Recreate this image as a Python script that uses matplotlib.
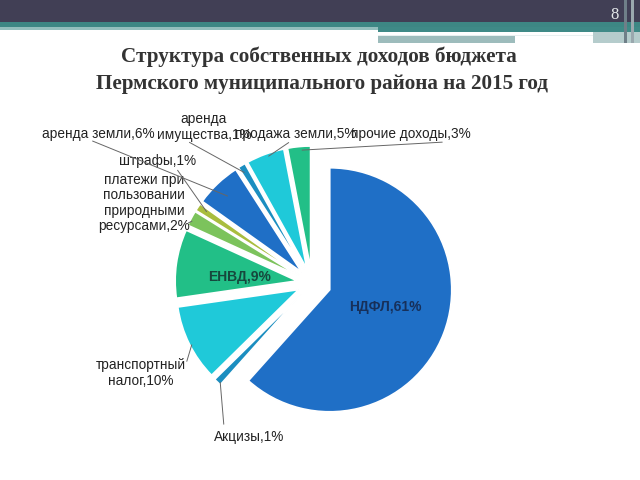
import matplotlib.pyplot as plt
from matplotlib.patches import Rectangle
import numpy as np

# data
labels = ['НДФЛ', 'Акцизы', 'транспортный\nналог', 'ЕНВД',
          'платежи при\nпользовании\nприродными\nресурсами', 'штрафы',
          'аренда земли', 'аренда\nимущества', 'продажа земли', 'прочие доходы']
shares = [61, 1, 10, 9, 2, 1, 6, 1, 5, 3]
colors = ['#1f6fc6', '#1b8ec0', '#1fc9d9', '#22bf87', '#7cc35c',
          '#a9bd3e', '#1f6fc6', '#1b8ec0', '#1fc9d9', '#22bf87']

H = 480
R = 122
# explode offsets in pixels (pie uses data units)
explode = [19] + [15] * 9

fig = plt.figure(figsize=(6.4, 4.8), dpi=100)
ax = fig.add_axes([0, 0, 1, 1])


def band(x0, y0, x1, y1, color):
    # rectangle given in image pixels (top-left origin)
    ax.add_patch(Rectangle((x0, H - y1), x1 - x0, y1 - y0, color=color,
                           lw=0, zorder=1))


# slide header
band(0, 0, 640, 22, '#413f55')
band(0, 22, 640, 27, '#3d8784')
band(0, 27, 378, 30, '#93bfbd')
band(378, 27, 640, 32, '#3f8a87')
band(378, 35, 593, 36, '#e8f0f0')
band(378, 36, 515, 43, '#9dbcbc')
band(593, 32, 640, 43, '#b5cccc')
band(624, 0, 627, 43, '#6f7f88')
band(631, 0, 634, 43, '#9aa8ae')
ax.text(615, H - 15, '8', ha='center', va='center', fontsize=12,
        family='Liberation Serif', color='#e4e8ea', zorder=2)

ax.text(319, H - 57, 'Структура собственных доходов бюджета',
        ha='center', va='center', fontsize=15.25, fontweight='bold',
        family='Liberation Serif', color='#333333')
ax.text(321.5, H - 84, 'Пермского муниципального района на 2015 год',
        ha='center', va='center', fontsize=15.25, fontweight='bold',
        family='Liberation Serif', color='#333333')

wedges, _ = ax.pie(shares, colors=colors, explode=explode, startangle=90,
                   counterclock=False, center=(312, H - 283), radius=R,
                   wedgeprops=dict(edgecolor='white', linewidth=1.2),
                   frame=True)
ax.set_xlim(0, 640)
ax.set_ylim(0, H)
ax.set_aspect('equal')
ax.axis('off')


def edge_point(w, frac=0.92):
    ang = np.deg2rad((w.theta1 + w.theta2) / 2)
    cx, cy = w.center
    return cx + w.r * frac * np.cos(ang), cy + w.r * frac * np.sin(ang)


txt = dict(family='Liberation Sans', color='#222222')
line = dict(arrowstyle='-', color='#666666', lw=0.7)

ax.text(385, H - 307, f'{labels[0]},{shares[0]}%', ha='center', va='center',
        fontsize=10, fontweight='bold', family='Liberation Sans', color='#17305a')
ax.text(240, H - 277, f'{labels[3]},{shares[3]}%', ha='center', va='center',
        fontsize=10, fontweight='bold', family='Liberation Sans', color='#16483d')

# outside labels: (index, text position, line start, radial fraction of end)
outside = [
    (1, (249, H - 437), (224, H - 427), 0.97),
    (2, (141, H - 373), (186, H - 364), 0.97),
    (4, (144, H - 203), (186, H - 224), 0.97),
    (5, (158, H - 161), (176, H - 168), 0.9),
    (6, (98, H - 134), (90, H - 140), 0.85),
    (7, (204, H - 127), (187, H - 141), 0.92),
    (8, (296, H - 134), (291, H - 141), 0.97),
    (9, (411, H - 134), (445, H - 142), 0.97),
]
for i, pos, start, frac in outside:
    ax.text(pos[0], pos[1], f'{labels[i]},{shares[i]}%', ha='center',
            va='center', multialignment='center', linespacing=1.1,
            fontsize=9.8, **txt)
    ax.annotate('', xy=edge_point(wedges[i], frac), xytext=start,
                arrowprops=line)

fig.savefig('out.png', dpi=100, facecolor='white')
